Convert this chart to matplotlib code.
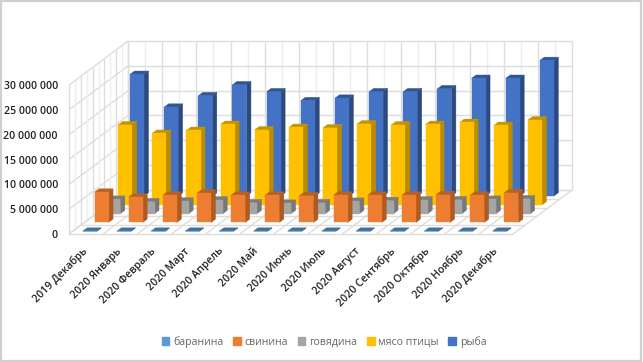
import matplotlib
matplotlib.use('Agg')
import matplotlib.pyplot as plt
from matplotlib.patches import Patch, Polygon, Rectangle
from matplotlib.transforms import ScaledTranslation

months = ['2019 Декабрь', '2020 Январь', '2020 Февраль', '2020 Март', '2020 Апрель',
          '2020 Май', '2020 Июнь', '2020 Июль', '2020 Август', '2020 Сентябрь',
          '2020 Октябрь', '2020 Ноябрь', '2020 Декабрь']
names = ['баранина', 'свинина', 'говядина', 'мясо птицы', 'рыба']

baranina = [20000] * 13
svinina = [6100000, 5100000, 5500000, 5900000, 5500000, 5500000, 5400000,
           5500000, 5500000, 5500000, 5600000, 5500000, 6000000]
govyadina = [2900000, 2400000, 2550000, 2750000, 2200000, 2100000, 2200000,
             2500000, 2650000, 2750000, 2800000, 2900000, 3000000]
ptitsa = [16100000, 14400000, 15000000, 16200000, 15100000, 15600000, 15500000,
          16300000, 16100000, 16200000, 16600000, 16000000, 17100000]
ryba = [24500000, 17900000, 20200000, 22400000, 21000000, 19200000, 19700000,
        21000000, 21000000, 21600000, 23700000, 23700000, 27300000]
series = [baranina, svinina, govyadina, ptitsa, ryba]

y_ticks = [0, 5000000, 10000000, 15000000, 20000000, 25000000, 30000000]
y_labels = ['0', '5 000 000', '10 000 000', '15 000 000', '20 000 000', '25 000 000', '30 000 000']

# front, side, top colours for each series
front_cols = ['#5B9BD5', '#ED7D31', '#A5A5A5', '#FFC000', '#4472C4']
side_cols = ['#41719C', '#AE5A21', '#787878', '#BC8C00', '#2C4A80']
top_cols = ['#41719C', '#B9611F', '#7C7C7C', '#C49400', '#2F5597']
grid_col = '#DDDDDD'
grid_light = '#EEEEEE'

# oblique projection: full depth of the chart moves this far in data units
DX = 1.73
DY = 8860000
BAR_W = 0.41
BAR_D = 0.38 / 5


def proj(x, d, v):
    return x + d * DX, v + d * DY


def line(p1, p2, col=grid_col, lw=1.0):
    a = proj(*p1)
    b = proj(*p2)
    ax.plot([a[0], b[0]], [a[1], b[1]], color=col, lw=lw, clip_on=False, zorder=1, solid_capstyle='butt')


def face(pts, col):
    ax.add_patch(Polygon([proj(*p) for p in pts], closed=True, facecolor=col, edgecolor=col,
                         lw=0.3, clip_on=False, zorder=3))


W, H = 643, 362
fig = plt.figure(figsize=(W / 100, H / 100), dpi=100)
fig.patches.append(Rectangle((0.8 / W, 1.5 / H), (W - 2.6) / W, (H - 2.2) / H, transform=fig.transFigure,
                             facecolor='white', edgecolor='#D0D0D0', lw=1.6, zorder=-1))
ax = fig.add_axes([69 / W, (H - 234) / H, 444 / W, 149 / H])
ax.patch.set_alpha(0)

n = len(months)
top = y_ticks[-1]

# back wall
for i in range(n * 2 + 1):
    x = i / 2
    line((x, 1, 0), (x, 1, top), grid_col if i % 2 == 0 else grid_light)
for v in y_ticks:
    line((0, 1, v), (n, 1, v))
    line((0, 0, v), (0, 1, v))  # left wall
# left wall verticals
for i in range(11):
    d = i / 10
    line((0, d, 0), (0, d, top), grid_col if i % 2 == 0 else grid_light)
# floor
for i in range(n + 1):
    line((i, 0, 0), (i, 1, 0))
for i in range(6):
    line((0, i / 5, 0), (n, i / 5, 0))

# bars, back row first
for s in range(4, -1, -1):
    d0 = (s + 0.31) / 5
    d1 = d0 + BAR_D
    for i, v in enumerate(series[s]):
        x0 = i + (1 - BAR_W) / 2
        x1 = x0 + BAR_W
        face([(x1, d0, 0), (x1, d1, 0), (x1, d1, v), (x1, d0, v)], side_cols[s])
        face([(x0, d0, v), (x1, d0, v), (x1, d1, v), (x0, d1, v)], top_cols[s])
        face([(x0, d0, 0), (x1, d0, 0), (x1, d0, v), (x0, d0, v)], front_cols[s])

ax.set_xlim(0, n)
ax.set_ylim(0, top)
for sp in ax.spines.values():
    sp.set_visible(False)
ax.set_yticks(y_ticks)
ax.set_yticklabels(y_labels, fontsize=7.6, color='#222222', family='Open Sans', weight='semibold')
ax.set_xticks([i + 0.5 for i in range(n)])
ax.set_xticklabels(months, fontsize=7.6, color='#222222', family='Open Sans', weight='semibold',
                   rotation=45, ha='right', va='top', rotation_mode='anchor')
ax.tick_params(axis='y', length=0, pad=8)
ax.tick_params(axis='x', length=0, pad=8.5)
for lab in ax.get_xticklabels():
    lab.set_transform(lab.get_transform() + ScaledTranslation(-3 / 72, 0, fig.dpi_scale_trans))

handles = [Patch(facecolor=c, edgecolor=c) for c in front_cols]
fig.legend(handles, names, loc='center', bbox_to_anchor=(324 / W, (H - 342) / H), ncol=5, frameon=False,
           prop={'family': 'Open Sans', 'size': 7.6}, labelcolor='#666666', handlelength=0.75, handleheight=0.75,
           handletextpad=0.35, columnspacing=0.9)

fig.savefig('out.png', dpi=100)
